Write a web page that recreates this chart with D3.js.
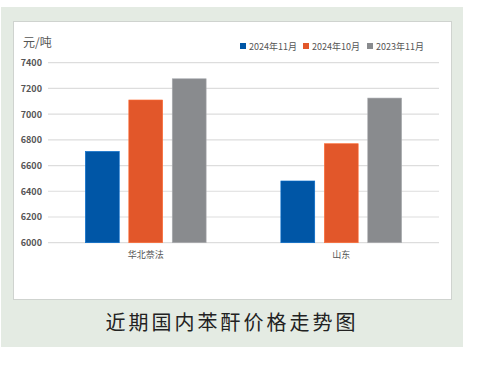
<!DOCTYPE html>
<html><head><meta charset="utf-8">
<script src="https://cdn.jsdelivr.net/npm/d3@7"></script>
<style>body{margin:0;background:#fff;} svg{display:block;}</style>
</head><body>
<script>
const categories = ["华北萘法", "山东"];
const seriesNames = ["2024年11月", "2024年10月", "2023年11月"];
const seriesValues = [
  [6710, 6480],
  [7110, 6770],
  [7275, 7125]
];
const colors = ["#0056A6", "#E2572A", "#898B8E"];
const yTicks = [6000, 6200, 6400, 6600, 6800, 7000, 7200, 7400];
const unitLabel = "元/吨";
const caption = "近期国内苯酐价格走势图";

const W = 478, H = 365;
const svg = d3.select("body").append("svg").attr("width", W).attr("height", H);
const font = "'Noto Sans CJK SC','Noto Sans',sans-serif";

svg.append("rect").attr("x", 1).attr("y", 7).attr("width", 462).attr("height", 340).attr("fill", "#E4EBE3");
svg.append("rect").attr("x", 13.5).attr("y", 21.5).attr("width", 438).attr("height", 278).attr("fill", "#fff").attr("stroke", "#cfd3cf");

const x0 = d3.scaleBand().domain(categories).range([48, 439]);
const x1 = d3.scaleBand().domain(seriesNames).range([0, x0.bandwidth()]).paddingInner(0.22).paddingOuter(0.86);
const y = d3.scaleLinear().domain([6000, 7400]).range([242.7, 62.7]);

const g = svg.append("g");
g.selectAll("line.grid").data(yTicks).join("line")
  .attr("x1", 48).attr("x2", 439)
  .attr("y1", d => y(d)).attr("y2", d => y(d))
  .attr("stroke", "#dddddd").attr("stroke-width", 1.2);

const yAxis = d3.axisLeft(y).tickValues(yTicks).tickFormat(d3.format("d")).tickSize(0).tickPadding(6);
const ya = svg.append("g").attr("transform", "translate(48,0)").call(yAxis);
ya.select(".domain").remove();
ya.selectAll("text").attr("font-family", font).attr("font-size", 9).attr("font-weight", "bold").attr("fill", "#555");

seriesNames.forEach((s, i) => {
  g.selectAll("rect.s" + i).data(seriesValues[i]).join("rect")
    .attr("x", (d, j) => x0(categories[j]) + x1(s))
    .attr("y", d => y(d))
    .attr("width", x1.bandwidth())
    .attr("height", d => y(6000) - y(d))
    .attr("fill", colors[i])
    .attr("stroke", d3.color(colors[i]).brighter(0.6)).attr("stroke-width", 0.6);
});

const xAxis = d3.axisBottom(x0).tickSize(0).tickPadding(9);
const xa = svg.append("g").attr("transform", "translate(0,242.7)").call(xAxis);
xa.select(".domain").remove();
xa.selectAll("text").attr("font-family", font).attr("font-size", 9).attr("fill", "#555");

svg.append("text").attr("x", 23).attr("y", 47).text(unitLabel)
  .attr("font-family", font).attr("font-size", 12).attr("fill", "#555");

const legendX = [240, 303, 367];
seriesNames.forEach((s, i) => {
  svg.append("rect").attr("x", legendX[i]).attr("y", 43).attr("width", 6).attr("height", 6).attr("fill", colors[i]);
  svg.append("text").attr("x", legendX[i] + 9).attr("y", 49.5).text(s)
    .attr("font-family", font).attr("font-size", 9).attr("fill", "#555");
});

svg.append("text").attr("x", 232).attr("y", 330).attr("text-anchor", "middle").text(caption)
  .attr("font-family", font).attr("font-size", 20).attr("letter-spacing", 3).attr("fill", "#222");
</script>
</body></html>
